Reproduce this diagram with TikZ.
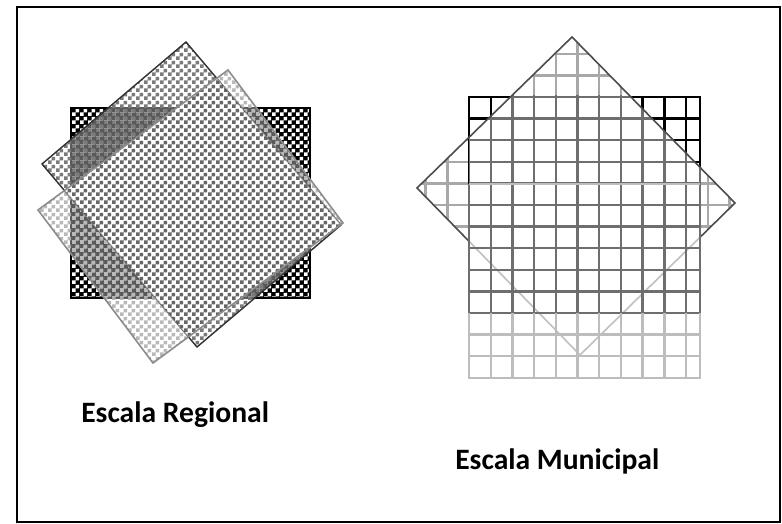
\documentclass[tikz,border=0pt]{standalone}
\usepackage{fontspec}
\setmainfont{Carlito}
\usetikzlibrary{patterns}
\pgfdeclarepatternformonly{finechk}{\pgfqpoint{0pt}{0pt}}{\pgfqpoint{6pt}{6pt}}{\pgfqpoint{6pt}{6pt}}{%
  \pgfpathrectangle{\pgfqpoint{0pt}{0pt}}{\pgfqpoint{3pt}{3pt}}%
  \pgfpathrectangle{\pgfqpoint{3pt}{3pt}}{\pgfqpoint{3pt}{3pt}}%
  \pgfusepath{fill}}
\definecolor{dgrid}{HTML}{6E6E6E}
\definecolor{lgrid}{HTML}{BDBDBD}
\definecolor{mgrid}{HTML}{A8A8A8}
\begin{document}
\begin{tikzpicture}[x=0.75pt,y=-0.75pt,
  frame/.style={draw=black,line width=1.2pt},
  gridline/.style={line width=1.8pt},
  lbl/.style={font=\bfseries\fontsize{22.2}{26}\selectfont,anchor=base west,inner sep=0pt}]
\useasboundingbox (0,0) rectangle (782,524);
\draw[frame] (17,7) rectangle (780,522);

% ---------- Regional ----------
\coordinate (b1) at (71,108);
\coordinate (b2) at (310,298);
\fill[black] (b1) rectangle (b2);
\fill[pattern=finechk,pattern color=white] (b1) rectangle (b2);
\draw[black,line width=1.2pt] (b1) rectangle (b2);

\coordinate (dT) at (186,42);
\coordinate (dL) at (42,164);
\coordinate (dB) at (197,347);
\coordinate (dR) at (341,225);
\coordinate (lT) at (228,70);
\coordinate (lL) at (38,210);
\coordinate (lB) at (153,363);
\coordinate (lR) at (343,223);

\fill[white,opacity=0.35] (dT) -- (dL) -- (dB) -- (dR) -- cycle;
\fill[pattern=finechk,pattern color=black!52] (dT) -- (dL) -- (dB) -- (dR) -- cycle;
\draw[black!80,line width=1pt] (dT) -- (dL) -- (dB) -- (dR) -- cycle;

\fill[white,opacity=0.35] (lT) -- (lL) -- (lB) -- (lR) -- cycle;
\fill[pattern=finechk,pattern color=black!30,opacity=0.9] (lT) -- (lL) -- (lB) -- (lR) -- cycle;
% overlap of the two rotated squares
\begin{scope}
  \clip (dT) -- (dL) -- (dB) -- (dR) -- cycle;
  \clip (lT) -- (lL) -- (lB) -- (lR) -- cycle;
  \fill[white] (0,0) rectangle (400,400);
  \fill[pattern=finechk,pattern color=black!60] (0,0) rectangle (400,400);
\end{scope}
\draw[black!80,line width=1pt,opacity=0.35] (dT) -- (dL) -- (dB) -- (dR) -- cycle;
\draw[black!45,line width=1.2pt] (lT) -- (lL) -- (lB) -- (lR) -- cycle;

% ---------- Municipal ----------
\coordinate (mT) at (572,37);
\coordinate (mL) at (417,188);
\coordinate (mB) at (580,355);
\coordinate (mR) at (735,203);
% light grid inside diamond
\begin{scope}
  \clip (mT) -- (mL) -- (mB) -- (mR) -- cycle;
  \fill[white] (400,30) rectangle (750,380);
  \foreach \i in {-3,...,13} \draw[mgrid,gridline] (469+21.7*\i,20) -- (469+21.7*\i,380);
  \foreach \j in {-4,...,14} \draw[mgrid,gridline] (400,97+21.6*\j) -- (750,97+21.6*\j);
\end{scope}
% black grid top
\begin{scope}
  \clip (469,97) rectangle (700,185);
  \fill[white] (469,97) rectangle (700,185);
  \foreach \i in {0,...,10} \draw[black,gridline] (469+21.7*\i,97) -- (469+21.7*\i,185);
  \foreach \j in {1,...,4} \draw[black,gridline] (469,97+21.6*\j) -- (700,97+21.6*\j);
\end{scope}
\draw[black,line width=1.8pt] (469,185) -- (469,97) -- (700,97) -- (700,185);
% dark grid where diamond covers rect
\begin{scope}
  \clip (mT) -- (mL) -- (mB) -- (mR) -- cycle;
  \clip (469,96) rectangle (701,315);
  \fill[white] (469,96) rectangle (701,315);
  \foreach \i in {0,...,10} \draw[dgrid,gridline] (469+21.7*\i,90) -- (469+21.7*\i,320);
  \draw[dgrid,gridline] (700,90) -- (700,320);
  \foreach \j in {0,...,10} \draw[dgrid,gridline] (460,97+21.6*\j) -- (710,97+21.6*\j);
\end{scope}
\draw[black!70,line width=1.2pt] (mT) -- (mL) -- (mB) -- (mR) -- cycle;
% lower overlay
\fill[white,opacity=0.65] (469,184) rectangle (700,378);
\begin{scope}
  \clip (468,184) rectangle (701,314);
  \foreach \i in {0,...,10} \draw[dgrid,gridline] (469+21.7*\i,184) -- (469+21.7*\i,314);
  \draw[dgrid,gridline] (700,184) -- (700,314);
  \foreach \j in {5,...,10} \draw[dgrid,gridline] (468,97+21.6*\j) -- (701,97+21.6*\j);
\end{scope}
\begin{scope}
  \clip (468,313) rectangle (701,378);
  \foreach \i in {0,...,10} \draw[lgrid,gridline] (469+21.7*\i,313) -- (469+21.7*\i,378);
  \draw[lgrid,gridline] (700,313) -- (700,378);
  \foreach \j in {11,...,13} \draw[lgrid,gridline] (468,97+21.6*\j) -- (701,97+21.6*\j);
\end{scope}
\draw[lgrid,line width=1.2pt] (469,184) -- (700,184);

\node[lbl] (reg) at (81,422) {Escala Regional};
\node[lbl] (mun) at (455,469) {Escala Municipal};
\end{tikzpicture}
\end{document}
